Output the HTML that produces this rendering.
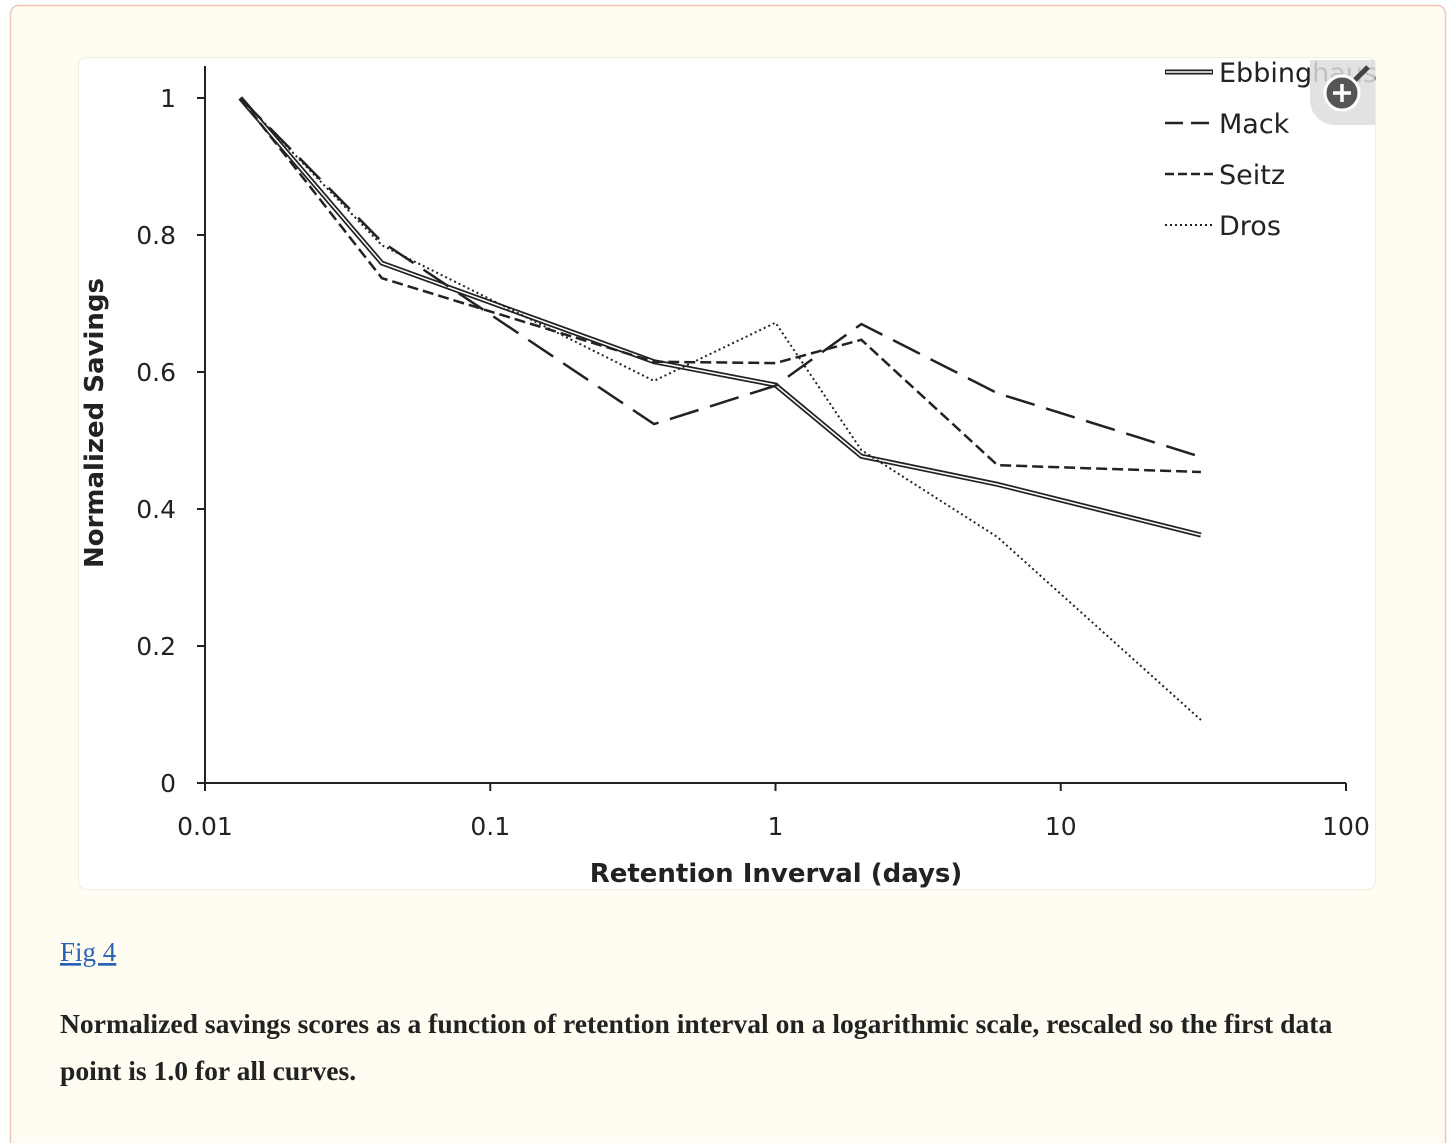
<!DOCTYPE html>
<html><head><meta charset="utf-8"><style>
body{margin:0;background:#fff;width:1456px;height:1143px;overflow:hidden;font-family:"Liberation Sans",sans-serif}
</style></head><body>
<svg width="1456" height="1143" viewBox="0 0 1456 1143" xmlns="http://www.w3.org/2000/svg">
<rect x="10.5" y="5.5" width="1435" height="1145" rx="8" fill="#fffdf1" stroke="#eec6b6" stroke-width="1.5"/>
<rect x="78.5" y="57.5" width="1297" height="832" rx="8" fill="#fff" stroke="#f1ece0"/>
<g id="axes" font-family="DejaVu Sans, sans-serif" font-size="25" fill="#222"></g>
<g id="series"></g>
<g font-family="DejaVu Sans, sans-serif" font-size="27" fill="#222">
 <line x1="1165" y1="72" x2="1213" y2="72" stroke="#222" stroke-width="5"/><line x1="1166" y1="72" x2="1212" y2="72" stroke="#fff" stroke-width="1.5"/>
 <text x="1219" y="82">Ebbinghaus</text>
 <line x1="1165" y1="123" x2="1213" y2="123" stroke="#222" stroke-width="2.5" stroke-dasharray="18,8"/>
 <text x="1219" y="133">Mack</text>
 <line x1="1165" y1="174" x2="1213" y2="174" stroke="#222" stroke-width="2.5" stroke-dasharray="9,4"/>
 <text x="1219" y="184">Seitz</text>
 <line x1="1165" y1="225" x2="1213" y2="225" stroke="#222" stroke-width="2" stroke-dasharray="2,3"/>
 <text x="1219" y="235">Dros</text>
</g>
<g>
 <path d="M1310 60 H1375 V125 H1335 A25 25 0 0 1 1310 100 Z" fill="#ddd" opacity="0.85"/>
 <circle cx="1342" cy="93" r="17" fill="#555" stroke="#fff" stroke-width="3"/>
 <path d="M1342 84 V102 M1333 93 H1351" stroke="#fff" stroke-width="3.5"/>
 <line x1="1355" y1="80" x2="1368" y2="67" stroke="#444" stroke-width="5"/>
</g>
<a><text x="60" y="961" font-family="Liberation Serif, serif" font-size="27" fill="#2a62b8" text-decoration="underline">Fig 4</text></a>
<text font-family="Liberation Serif, serif" font-size="27.6" font-weight="bold" fill="#222">
 <tspan x="60" y="1033">Normalized savings scores as a function of retention interval on a logarithmic scale, rescaled so the first data</tspan>
 <tspan x="60" y="1080">point is 1.0 for all curves.</tspan>
</text>
</svg>
<script>
const xDays=[0.0133,0.0417,0.375,1,2,6,31];
const ebbinghaus=[1.0,0.759,0.615,0.581,0.477,0.436,0.362];
const mack=[1.0,0.79,0.524,0.58,0.67,0.569,0.476];
const seitz=[1.0,0.737,0.615,0.613,0.647,0.464,0.454];
const dros=[1.0,0.785,0.587,0.672,0.486,0.359,0.092];
const yTicks=[0,0.2,0.4,0.6,0.8,1];
const yTickLabels=["0","0.2","0.4","0.6","0.8","1"];
const xTicks=[0.01,0.1,1,10,100];
const xTickLabels=["0.01","0.1","1","10","100"];
const NS="http://www.w3.org/2000/svg";
const X=v=>205+(Math.log10(v)+2)*285.25;
const Y=v=>783-v*685;
const axes=document.getElementById('axes'), ser=document.getElementById('series');
function mk(tag,attrs,parent){const e=document.createElementNS(NS,tag);for(const k in attrs)e.setAttribute(k,attrs[k]);parent.appendChild(e);return e;}
let a=mk('line',{x1:205,y1:66,x2:205,y2:783,stroke:'#222','stroke-width':2},axes);


a=mk('line',{x1:205,y1:783,x2:1346,y2:783,stroke:'#222','stroke-width':2},axes);


yTicks.forEach((v,i)=>{mk('line',{x1:197,y1:Y(v),x2:205,y2:Y(v),stroke:'#222','stroke-width':2},axes);
 const t=mk('text',{x:176,y:Y(v)+9,'text-anchor':'end'},axes);t.textContent=yTickLabels[i];
 
 });
xTicks.forEach((v,i)=>{mk('line',{x1:X(v),y1:783,x2:X(v),y2:791,stroke:'#222','stroke-width':2},axes);
 const t=mk('text',{x:X(v),y:835,'text-anchor':'middle'},axes);t.textContent=xTickLabels[i];
 
 });
let t=mk('text',{x:776,y:882,'text-anchor':'middle','font-weight':'bold','font-size':26},axes);t.textContent='Retention Inverval (days)';


t=mk('text',{x:0,y:0,'text-anchor':'middle','font-weight':'bold','font-size':26,transform:'translate(103,423) rotate(-90)'},axes);t.textContent='Normalized Savings';


function line(vals,name,style){const pts=vals.map((v,i)=>X(xDays[i])+','+Y(v)).join(' ');
 const p=mk('polyline',Object.assign({points:pts,fill:'none',stroke:'#222','stroke-linejoin':'miter'},style),ser);
 
 return pts;}
const ep=line(ebbinghaus,'line-ebbinghaus',{'stroke-width':5});
mk('polyline',{points:ep,fill:'none',stroke:'#fff','stroke-width':1.5},ser);
line(mack,'line-mack',{'stroke-width':2.5,'stroke-dasharray':'30,12'});
line(seitz,'line-seitz',{'stroke-width':2.5,'stroke-dasharray':'11,5'});
line(dros,'line-dros',{'stroke-width':2,'stroke-dasharray':'2,3'});
</script>
</body></html>
